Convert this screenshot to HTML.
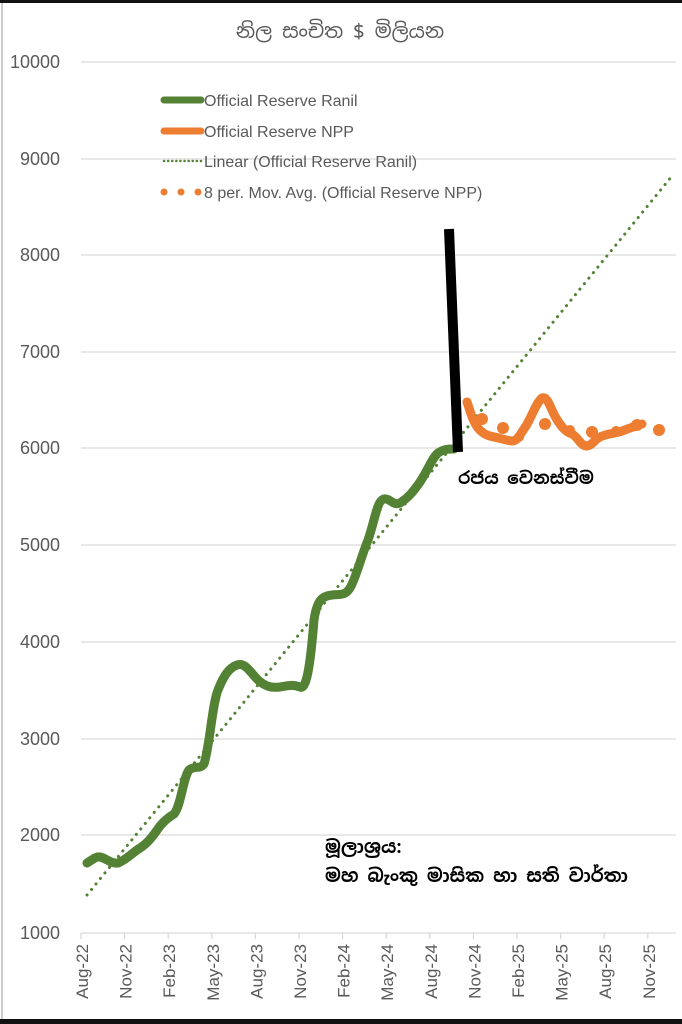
<!DOCTYPE html>
<html><head><meta charset="utf-8"><style>
html,body{margin:0;padding:0;background:#fff;}
svg{display:block;}
text{font-family:"Liberation Sans",sans-serif;fill:#595959;}
.si{font-family:"Noto Sans Sinhala","Iskoola Pota","Liberation Sans",sans-serif;}
</style></head><body>
<svg width="682" height="1024" viewBox="0 0 682 1024" xmlns="http://www.w3.org/2000/svg">
<rect x="0" y="0" width="682" height="1024" fill="#fff"/>
<rect x="0" y="0" width="682" height="3" fill="#111"/>
<rect x="0" y="1019" width="682" height="5" fill="#111"/>
<line x1="2" y1="3" x2="2" y2="1019" stroke="#ccc" stroke-width="2"/>
<g stroke="#d9d9d9" stroke-width="1.3">
<line x1="81" y1="62" x2="676" y2="62"/>
<line x1="81" y1="159" x2="676" y2="159"/>
<line x1="81" y1="255" x2="676" y2="255"/>
<line x1="81" y1="352" x2="676" y2="352"/>
<line x1="81" y1="448" x2="676" y2="448"/>
<line x1="81" y1="545" x2="676" y2="545"/>
<line x1="81" y1="642" x2="676" y2="642"/>
<line x1="81" y1="739" x2="676" y2="739"/>
<line x1="81" y1="835" x2="676" y2="835"/>
<line x1="81" y1="933" x2="676" y2="933"/>
<line x1="81" y1="933" x2="81" y2="939"/><line x1="124.6" y1="933" x2="124.6" y2="939"/>
<line x1="168.2" y1="933" x2="168.2" y2="939"/><line x1="211.8" y1="933" x2="211.8" y2="939"/>
<line x1="255.4" y1="933" x2="255.4" y2="939"/><line x1="299" y1="933" x2="299" y2="939"/>
<line x1="342.6" y1="933" x2="342.6" y2="939"/><line x1="386.2" y1="933" x2="386.2" y2="939"/>
<line x1="429.8" y1="933" x2="429.8" y2="939"/><line x1="473.4" y1="933" x2="473.4" y2="939"/>
<line x1="517" y1="933" x2="517" y2="939"/><line x1="560.6" y1="933" x2="560.6" y2="939"/>
<line x1="604.2" y1="933" x2="604.2" y2="939"/><line x1="647.8" y1="933" x2="647.8" y2="939"/>
</g>
<g font-size="18" text-anchor="end">
<text x="60" y="68">10000</text><text x="60" y="165">9000</text><text x="60" y="261">8000</text>
<text x="60" y="358">7000</text><text x="60" y="454">6000</text><text x="60" y="551">5000</text>
<text x="60" y="648">4000</text><text x="60" y="745">3000</text><text x="60" y="841">2000</text>
<text x="60" y="939">1000</text>
</g>
<g font-size="17" text-anchor="end">
<text transform="translate(88,944) rotate(-90)">Aug-22</text>
<text transform="translate(131.6,944) rotate(-90)">Nov-22</text>
<text transform="translate(175.2,944) rotate(-90)">Feb-23</text>
<text transform="translate(218.8,944) rotate(-90)">May-23</text>
<text transform="translate(262.4,944) rotate(-90)">Aug-23</text>
<text transform="translate(306,944) rotate(-90)">Nov-23</text>
<text transform="translate(349.6,944) rotate(-90)">Feb-24</text>
<text transform="translate(393.2,944) rotate(-90)">May-24</text>
<text transform="translate(436.8,944) rotate(-90)">Aug-24</text>
<text transform="translate(480.4,944) rotate(-90)">Nov-24</text>
<text transform="translate(524,944) rotate(-90)">Feb-25</text>
<text transform="translate(567.6,944) rotate(-90)">May-25</text>
<text transform="translate(611.2,944) rotate(-90)">Aug-25</text>
<text transform="translate(654.8,944) rotate(-90)">Nov-25</text>
</g>
<text class="si" x="340" y="38" font-size="20" text-anchor="middle">නිල සංචිත $ මිලියන</text>
<line x1="87" y1="895" x2="672" y2="176" stroke="#548235" stroke-width="3" stroke-dasharray="0.1 7" stroke-linecap="round"/>
<path d="M87,863 C92,860 96,856 100,857 C106,858 111,864 118,863 C126,860 132,853 140,848 C148,843 153,836 160,826 C165,820 169,817 174,814 C181,806 183,778 189,770 C195,765 199,770 204,764 C210,745 212,705 218,690 C224,675 229,668 237,665 C245,662 250,672 258,680 C266,687 272,688 280,687 C287,686 292,684 300,687 C306,690 310,670 314,620 C317,600 322,596 332,595 C340,594 345,596 350,588 C356,578 360,560 368,540 C375,520 377,500 384,499 C390,498 393,506 400,503 C408,498 413,492 420,482 C428,470 432,458 438,453 C444,449 448,449 454,449" fill="none" stroke="#548235" stroke-width="9" stroke-linecap="round" stroke-linejoin="round"/>
<path d="M467,402 C470,410 472,420 478,428 C483,434 488,436 494,437 C500,438 504,440 512,441 C518,441 520,434 526,426 C532,416 536,403 542,398 C548,396 550,408 556,418 C562,428 566,432 572,434 C578,437 580,445 586,446 C592,446 594,440 600,437 C608,433 614,434 622,431 C630,428 636,426 642,424" fill="none" stroke="#ed7d31" stroke-width="9" stroke-linecap="round" stroke-linejoin="round"/>
<g fill="#ed7d31">
<circle cx="482" cy="419" r="6"/><circle cx="503" cy="428" r="6"/><circle cx="545" cy="424" r="6"/>
<circle cx="592" cy="432" r="6"/><circle cx="637" cy="425" r="6"/><circle cx="659" cy="430" r="6"/>
<circle cx="519" cy="437" r="5"/><circle cx="570" cy="430" r="5"/><circle cx="616" cy="431" r="5"/>
</g>
<line x1="449" y1="229" x2="458" y2="452" stroke="#000" stroke-width="10"/>
<line x1="164" y1="100" x2="201" y2="100" stroke="#548235" stroke-width="7" stroke-linecap="round"/>
<line x1="164" y1="131" x2="201" y2="131" stroke="#ed7d31" stroke-width="7" stroke-linecap="round"/>
<line x1="164" y1="161" x2="201" y2="161" stroke="#548235" stroke-width="2.5" stroke-dasharray="0.1 4" stroke-linecap="round"/>
<circle cx="164" cy="192" r="3.5" fill="#ed7d31"/><circle cx="181" cy="192" r="3.5" fill="#ed7d31"/><circle cx="198" cy="192" r="3.5" fill="#ed7d31"/>
<g font-size="16">
<text x="204" y="106">Official Reserve Ranil</text>
<text x="204" y="137">Official Reserve NPP</text>
<text x="204" y="167">Linear (Official Reserve Ranil)</text>
<text x="204" y="198">8 per. Mov. Avg. (Official Reserve NPP)</text>
</g>
<text class="si" x="458" y="484" font-size="17" font-weight="bold" style="fill:#000">රජය වෙනස්වීම</text>
<text class="si" x="325" y="853" font-size="18" font-weight="bold" style="fill:#000">මූලාශ්‍රය:</text>
<text class="si" x="325" y="882" font-size="18" font-weight="bold" style="fill:#000">මහ බැංකු මාසික හා සති වාර්තා</text>
</svg>
</body></html>
